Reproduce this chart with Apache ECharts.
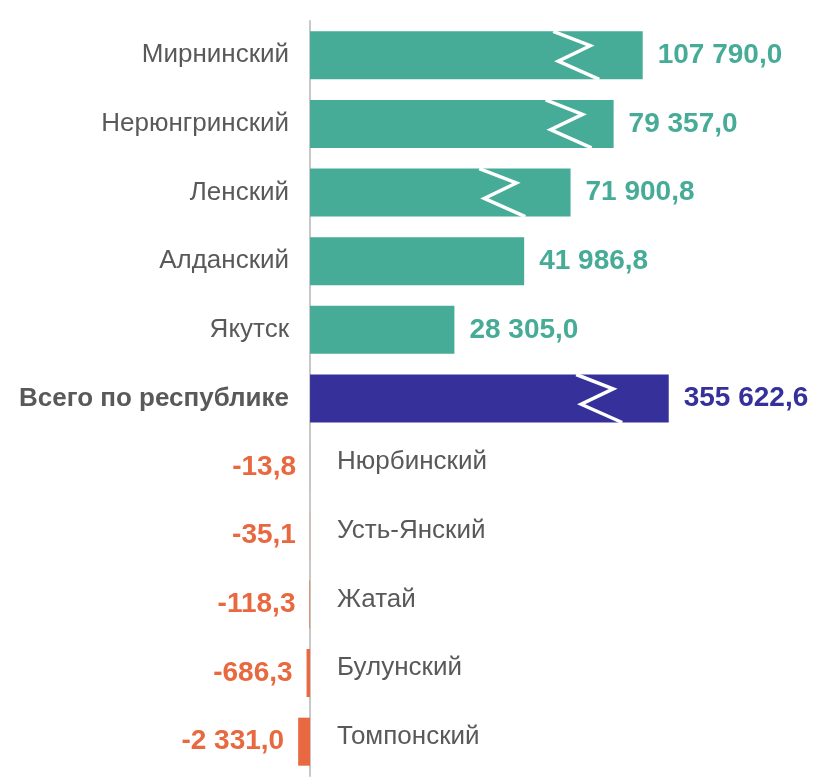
<!DOCTYPE html>
<html>
<head>
<meta charset="utf-8">
<script src="https://cdn.jsdelivr.net/npm/echarts@6.0.0/dist/echarts.min.js"></script>
<style>
  html, body { margin: 0; padding: 0; background: #fff; }
  #chart { width: 819px; height: 781px; }
</style>
</head>
<body>
<div id="chart"></div>
<script>
// районы, сверху вниз
var categories = ['Мирнинский', 'Нерюнгринский', 'Ленский', 'Алданский', 'Якутск',
  'Всего по республике', 'Нюрбинский', 'Усть-Янский', 'Жатай', 'Булунский', 'Томпонский']
var values = [107790.0, 79357.0, 71900.8, 41986.8, 28305.0,
  355622.6, -13.8, -35.1, -118.3, -686.3, -2331.0]
// разрыв шкалы: где стоит зигзаг и сколько срезано (в единицах данных)
var breakAt = [52000, 50500, 37500, null, null, 56500, null, null, null, null, null]
var breakCut = [42560, 19830, 20820, 0, 0, 285290, 0, 0, 0, 0, 0]
var totalIndex = 5

var TEAL = '#46AB97'
var NAVY = '#35309A'
var ORANGE = '#E8683F'
var GREY = '#595959'
var FONT = '"Liberation Sans", Arial, sans-serif'

function fmt(v) {
  var s = Math.abs(v).toFixed(1).split('.')
  return (v < 0 ? '-' : '') + s[0].replace(/\B(?=(\d{3})+(?!\d))/g, ' ') + ',' + s[1]
}

function colorOf(i) {
  if (values[i] < 0) return ORANGE
  return i === totalIndex ? NAVY : TEAL
}

var barData = values.map(function(v, i) {
  var c = colorOf(i)
  return {
    value: v - breakCut[i],
    itemStyle: { color: c },
    label: {
      show: true,
      position: v < 0 ? 'left' : 'right',
      distance: v < 0 ? 14 : 15,
      color: c,
      formatter: function() { return fmt(v) }
    }
  }
})

var zigData = []
breakAt.forEach(function(b, i) {
  if (b != null) zigData.push([b, i])
})

// подписи районов ставим от нуля оси: слева у положительных, справа у отрицательных
var nameData = categories.map(function(n, i) { return [0, i] })

var BAR_W = 48

var chart = echarts.init(document.getElementById('chart'))
chart.setOption({
  animation: false,
  grid: { left: 0, right: 0, top: 21, bottom: 5, containLabel: false, outerBoundsMode: 'none' },
  xAxis: {
    type: 'value',
    min: -60800,
    max: 99800,
    show: false,
    splitLine: { show: false }
  },
  yAxis: {
    type: 'category',
    data: categories,
    inverse: true,
    axisLine: { onZero: true, lineStyle: { color: '#C8C8C8', width: 2 } },
    axisTick: { show: false },
    axisLabel: { show: false }
  },
  series: [
    {
      type: 'bar',
      barWidth: BAR_W,
      data: barData,
      label: {
        fontSize: 28,
        fontWeight: 'bold',
        fontFamily: FONT
      },
      z: 2
    },
    {
      // белые зигзаги разрыва
      type: 'custom',
      data: zigData,
      z: 3,
      silent: true,
      renderItem: function(params, api) {
        var c = api.coord([api.value(0), api.value(1)])
        var h = BAR_W
        var top = c[1] - h / 2
        var pts = [
          [c[0] - 22, top],
          [c[0] + 15, top + h * 0.3],
          [c[0] - 17, top + h * 0.62],
          [c[0] + 24, top + h]
        ]
        return {
          type: 'polyline',
          shape: { points: pts },
          style: { stroke: '#fff', lineWidth: 3.5, fill: null }
        }
      }
    },
    {
      type: 'custom',
      data: nameData,
      z: 4,
      silent: true,
      renderItem: function(params, api) {
        var i = api.value(1)
        var c = api.coord([0, i])
        var neg = values[i] < 0
        return {
          type: 'text',
          x: neg ? c[0] + 27 : c[0] - 21,
          y: neg ? c[1] - 5 : c[1],
          style: {
            text: categories[i],
            fill: GREY,
            fontSize: 26,
            fontWeight: i === totalIndex ? 'bold' : 'normal',
            fontFamily: FONT,
            align: neg ? 'left' : 'right',
            verticalAlign: 'middle'
          }
        }
      }
    }
  ]
})
</script>
</body>
</html>
